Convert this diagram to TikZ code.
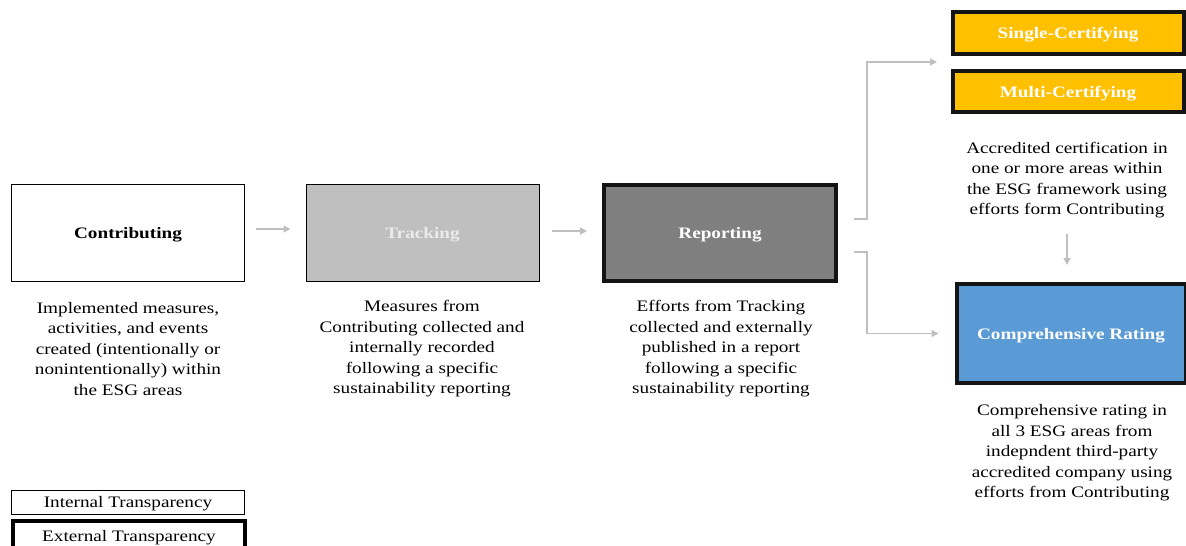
\documentclass[tikz,border=0pt]{standalone}
\usepackage{fontspec}
\setmainfont{Liberation Serif}[FakeStretch=1.2]
\usetikzlibrary{arrows.meta,positioning}
\definecolor{arrgray}{HTML}{BFBFBF}
\definecolor{trackfill}{HTML}{BFBFBF}
\definecolor{repfill}{HTML}{7F7F7F}
\definecolor{gold}{HTML}{FFC000}
\definecolor{blueish}{HTML}{5B9BD5}
\definecolor{darkline}{HTML}{141414}
\tikzset{
  lowtext/.style={text height=11pt, text depth=-4pt},
  stagebox/.style={draw=black, line width=1pt, minimum width=233pt, minimum height=97pt, inner sep=0pt, lowtext, font=\fontsize{16}{20}\selectfont\bfseries},
  thickbox/.style={draw=darkline, line width=4pt, inner sep=0pt, lowtext, font=\fontsize{16}{20}\selectfont\bfseries, text=white},
  desc/.style={align=center, inner sep=0pt, font=\fontsize{16}{20.5}\selectfont},
  arr/.style={draw=arrgray, line width=1.4pt, -{Triangle[width=7pt,length=7pt]}},
  legbox/.style={draw=black, inner sep=0pt, lowtext, font=\fontsize{16}{20}\selectfont}
}
\begin{document}
\begin{tikzpicture}[x=1pt,y=-1pt]
\useasboundingbox (0,0) rectangle (1186,546);
% stage boxes
\node[stagebox, fill=white] (contrib) at (128,233) {Contributing};
\node[stagebox, fill=trackfill, text=white!92!black] (track) at (422.5,233) {Tracking};
\node[thickbox, fill=repfill, minimum width=232pt, minimum height=96pt] (report) at (720,233) {Reporting};
% certification boxes
\node[thickbox, fill=gold, minimum width=231pt, minimum height=42pt] (single) at (1068,33) {Single-Certifying};
\node[thickbox, fill=gold, minimum width=231pt, minimum height=41pt] (multi) at (1068,91.5) {Multi-Certifying};
\node[thickbox, fill=blueish, minimum width=229pt, minimum height=99pt] (comp) at (1071,333.5) {Comprehensive Rating};
% descriptions
\node[desc] (dcontrib) at (128,349) {Implemented measures,\\activities, and events\\created (intentionally or\\nonintentionally) within\\the ESG areas};
\node[desc] (dtrack) at (422,349) {Measures from\\Contributing collected and\\internally recorded\\following a specific\\sustainability reporting};
\node[desc] (dreport) at (721,349) {Efforts from Tracking\\collected and externally\\published in a report\\following a specific\\sustainability reporting};
\node[desc] (dcert) at (1067,180) {Accredited certification in\\one or more areas within\\the ESG framework using\\efforts form Contributing};
\node[desc] (dcomp) at (1072,453) {Comprehensive rating in\\all 3 ESG areas from\\indepndent third-party\\accredited company using\\efforts from Contributing};
% legend
\node[legbox, line width=1pt, minimum width=233pt, minimum height=24pt] (lint) at (128,502) {Internal Transparency};
\node[legbox, line width=4pt, minimum width=232pt, minimum height=30pt] (lext) at (129,536) {External Transparency};
% connectors
\coordinate (certin) at (937,62);
\draw[arr, shorten <=11pt, shorten >=15pt] ([yshift=4pt]contrib.east) -- ([yshift=4pt]track.west);
\draw[arr, shorten <=12pt, shorten >=15pt] ([yshift=2pt]track.east) -- ([yshift=2pt]report.west);
\draw[arr] ([xshift=16pt,yshift=14pt]report.east) -- ++(13,0) |- (certin);
\draw[arr] ([xshift=16pt,yshift=-19pt]report.east) -- ++(13,0) |- ([xshift=-16pt]comp.west);
\draw[arr, shorten <=16pt, shorten >=17pt] (dcert.south -| 1067,0) -- (comp.north -| 1067,0);
\end{tikzpicture}
\end{document}
